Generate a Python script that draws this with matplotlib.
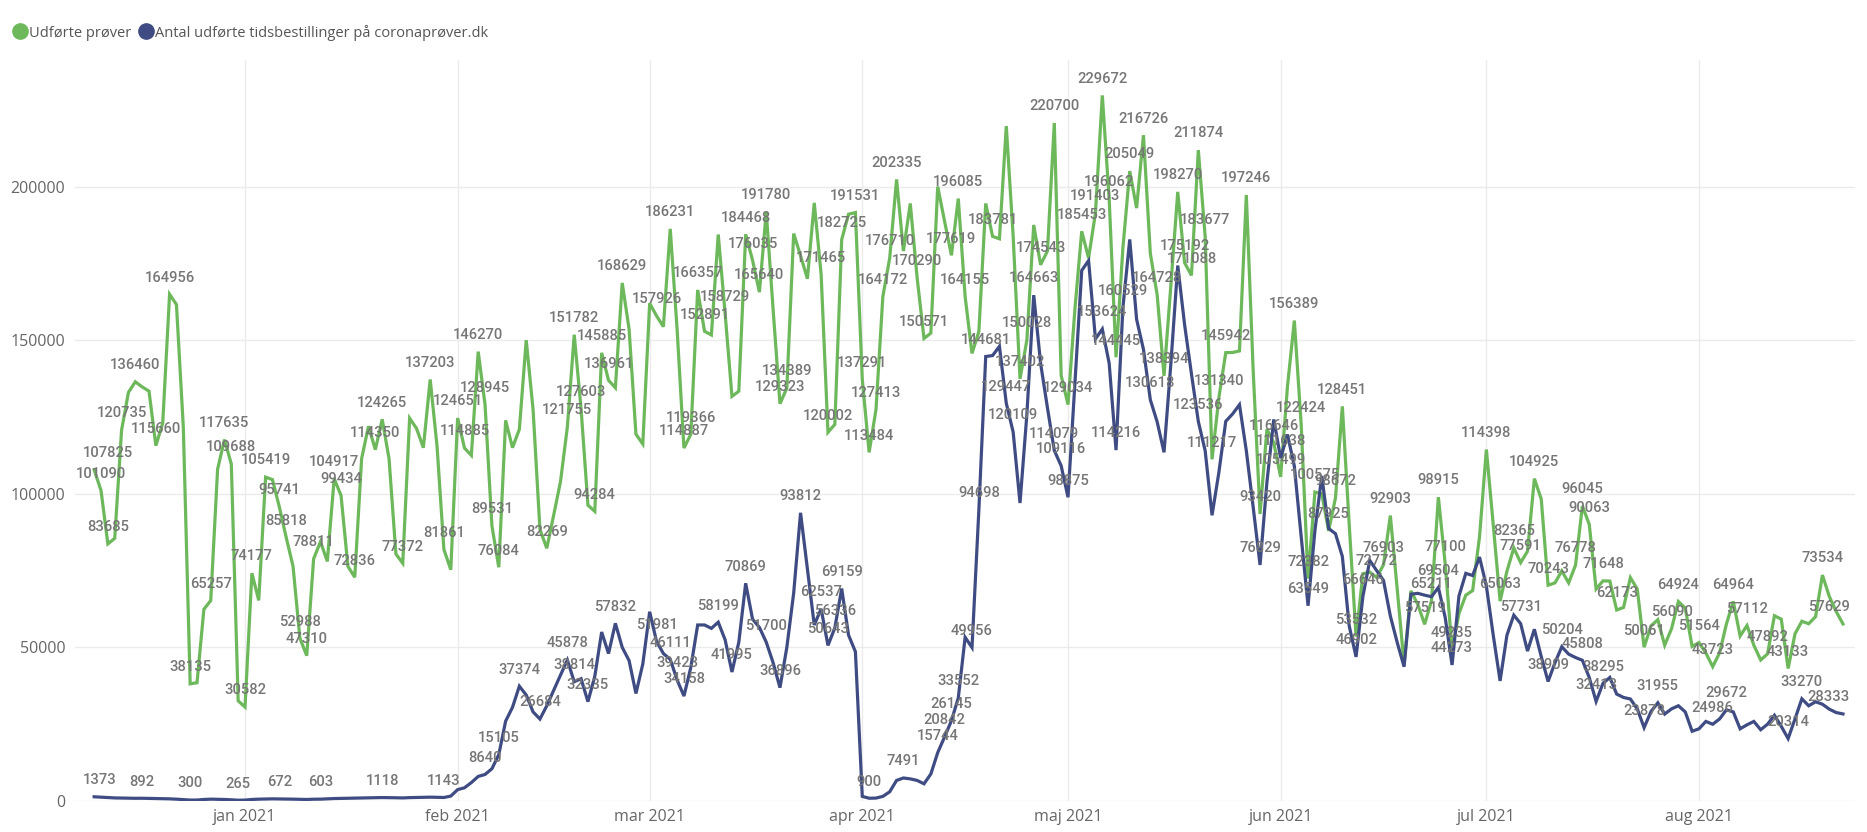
import matplotlib
matplotlib.use('Agg')
import matplotlib.pyplot as plt
from matplotlib.lines import Line2D
import pandas as pd

# daily values, first day 10 dec 2020
start_date = '2020-12-10'

udfoerte_proever = [
    107825, 101090, 83685, 85500, 120735, 133000, 136460, 134800, 133400, 115660,
    123000, 164956, 161600, 121800, 38135, 38500, 62400, 65257, 108000, 117635,
    109688, 32600, 30582, 74177, 65300, 105419, 104600, 95741, 85818, 76400,
    52988, 47310, 78811, 84400, 78000, 104917, 99434, 76400, 72836, 111400,
    122000, 114350, 124265, 111400, 80400, 77372, 124600, 121300, 115000, 137203,
    115400, 81861, 75300, 124651, 114885, 112500, 146270, 128945, 89531, 76084,
    123900, 115000, 121000, 150000, 127400, 88400, 82269, 93000, 104000, 121755,
    151782, 127603, 96300, 94284, 145885, 136961, 134500, 168629, 153600, 119400,
    116200, 162000, 157926, 154400, 186231, 153600, 114887, 119366, 166357, 152891,
    151700, 184400, 158729, 131700, 133400, 184468, 176035, 165640, 191780, 160000,
    129323, 134389, 184700, 177500, 170000, 194700, 171465, 120002, 122600, 182725,
    191000, 191531, 137291, 113484, 127413, 164172, 176710, 202335, 179000, 194500,
    170290, 150571, 152300, 200000, 188700, 177619, 196085, 164155, 145700, 152800,
    194500, 183781, 183000, 219700, 183900, 137402, 150028, 187500, 174543, 179000,
    220700, 138500, 129034, 160000, 185453, 176700, 191403, 229672, 196062, 144445,
    180000, 205049, 193000, 216726, 178300, 164728, 138394, 168000, 198270, 175192,
    171088, 211874, 183677, 111217, 131340, 145942, 146000, 146500, 197246, 140000,
    93420, 121000, 116646, 105499, 135000, 156389, 122424, 72382, 100575, 100000,
    87925, 98672, 128451, 90000, 53532, 74000, 74500, 72772, 76903, 92903,
    69000, 44500, 68400, 64000, 57519, 65211, 98915, 77100, 49235, 61000,
    67000, 68500, 86000, 114398, 90000, 65063, 74800, 82365, 77591, 81300,
    104925, 98300, 70243, 71000, 74900, 71000, 76778, 96045, 90063, 69000,
    71648, 71600, 62173, 63000, 72700, 69000, 50061, 57000, 59000, 50700,
    56090, 64924, 62800, 50300, 51564, 48200, 43723, 48200, 57600, 64964,
    53700, 57112, 50700, 45900, 47892, 60300, 59200, 43133, 54400, 58500,
    57700, 60000, 73534, 66600, 61700, 57629]

tidsbestillinger = [
    1373, 1250, 1100, 1000, 950, 900, 880, 892, 850, 800,
    750, 700, 600, 450, 300, 320, 500, 600, 550, 500,
    400, 265, 300, 500, 600, 650, 700, 672, 650, 600,
    550, 500, 580, 603, 700, 800, 850, 900, 950, 1000,
    1050, 1100, 1118, 1100, 1050, 1000, 1100, 1150, 1200, 1250,
    1200, 1143, 1600, 3700, 4300, 6000, 8000, 8640, 10500, 15105,
    26000, 30500, 37374, 34500, 29000, 26684, 31000, 36000, 41000, 45878,
    38814, 39800, 32335, 40600, 55000, 48000, 57832, 50000, 45700, 35000,
    44600, 61600, 51981, 48000, 46111, 39423, 34158, 43500, 57300, 57300,
    56200, 58199, 52500, 41995, 51700, 70869, 59200, 56500, 51700, 45000,
    36896, 50000, 67700, 93812, 75600, 57300, 62537, 50643, 56336, 69159,
    54000, 48600, 1500, 900, 950, 1500, 3000, 6700, 7491, 7200,
    6700, 5600, 8800, 15744, 20842, 26145, 33552, 53300, 49956, 94698,
    144681, 145000, 148000, 129447, 120109, 97000, 125800, 164663, 142500, 128000,
    114079, 109116, 98875, 136000, 172700, 175900, 150400, 153624, 142500, 114216,
    160529, 182800, 156800, 147000, 130618, 123400, 113500, 142500, 174300, 155000,
    139000, 123536, 114000, 93000, 107000, 123600, 126000, 129000, 114000, 95600,
    76829, 103700, 124200, 111638, 119300, 109000, 86000, 63549, 88000, 105800,
    88700, 87000, 79600, 57000, 46902, 66646, 78300, 75000, 71800, 60200,
    51600, 43700, 67300, 67600, 67000, 66500, 69504, 59700, 44273, 66700,
    74100, 73400, 79400, 70000, 54000, 39100, 54000, 60500, 57731, 48800,
    55900, 47000, 38909, 45000, 50204, 47800, 46700, 45808, 40200, 32413,
    38295, 40200, 34800, 33700, 33200, 30000, 23878, 29100, 31955, 28300,
    30000, 31000, 29000, 22700, 23500, 25900, 24986, 26700, 29672, 29000,
    23500, 24800, 25900, 23200, 25000, 27900, 24300, 20314, 26700, 33270,
    31000, 32300, 31500, 29900, 28800, 28333]

# which days carry a data label
green_label_days = [0, 1, 2, 4, 6, 9, 11, 14, 17, 19, 20, 22, 23, 25, 27, 28, 30, 31, 32,
                    35, 36, 38, 41, 42, 45, 49, 51, 53, 54, 56, 57, 58, 59, 66, 69, 70, 71,
                    73, 74, 75, 77, 82, 84, 86, 87, 88, 89, 92, 95, 96, 97, 98, 100, 101,
                    106, 107, 109, 111, 112, 113, 114, 115, 116, 117, 120, 121, 125, 126,
                    127, 131, 135, 136, 138, 140, 142, 144, 146, 147, 148, 149, 151, 153,
                    155, 156, 158, 159, 160, 161, 162, 163, 164, 165, 168, 170, 172, 173,
                    175, 176, 177, 178, 180, 181, 182, 184, 187, 188, 189, 194, 195, 196,
                    197, 198, 203, 205, 207, 208, 210, 212, 216, 217, 218, 220, 222, 226,
                    230, 231, 234, 236, 239, 241, 244, 247, 252, 255]
blue_label_days = [0, 7, 14, 21, 27, 33, 42, 51, 57, 59, 62, 65, 69, 70, 72, 76, 82, 84, 85,
                   86, 91, 93, 95, 98, 100, 103, 106, 107, 108, 109, 113, 118, 123, 124,
                   125, 126, 128, 129, 130, 133, 134, 137, 140, 141, 142, 147, 149, 150,
                   154, 161, 170, 173, 177, 184, 185, 196, 198, 208, 212, 214, 217, 219,
                   220, 226, 228, 236, 238, 247, 249, 255]

month_starts = ['2021-01-01', '2021-02-01', '2021-03-01', '2021-04-01',
                '2021-05-01', '2021-06-01', '2021-07-01', '2021-08-01']
month_names = ['jan 2021', 'feb 2021', 'mar 2021', 'apr 2021',
               'maj 2021', 'jun 2021', 'jul 2021', 'aug 2021']
y_ticks = [0, 50000, 100000, 150000, 200000]

GREEN = '#6db85b'
BLUE = '#3f4c83'
LABEL_GREY = '#767676'
AXIS_GREY = '#666666'

dates = pd.date_range(start_date, periods=len(udfoerte_proever), freq='D')

fig = plt.figure(figsize=(18.67, 8.32), dpi=100)
ax = fig.add_axes([75 / 1867, 31 / 832, 1780 / 1867, 741 / 832])

ax.plot(dates, udfoerte_proever, color=GREEN, lw=2.3, solid_joinstyle='miter', zorder=3)
ax.plot(dates, tidsbestillinger, color=BLUE, lw=2.3, solid_joinstyle='miter', zorder=3)


def put_labels(days, values):
    last = len(values) - 1
    for d in days:
        ha, dx = 'center', 0
        if d == 0:
            ha, dx = 'left', -8
        elif d == last:
            ha, dx = 'right', 5
        ax.annotate(str(values[d]), (dates[d], values[d]), xytext=(dx, 12),
                    textcoords='offset points', ha=ha, va='center',
                    fontsize=10.6, color=LABEL_GREY, family='Roboto',
                    fontweight='medium', zorder=4)


put_labels(green_label_days, udfoerte_proever)
put_labels(blue_label_days, tidsbestillinger)

ax.set_xlim(dates[0] - pd.Timedelta(hours=67), dates[-1] + pd.Timedelta(hours=42))
ax.set_ylim(0, 241200)

ax.set_xticks(pd.to_datetime(month_starts))
ax.set_xticklabels(month_names)
ax.set_yticks(y_ticks)
ax.set_yticklabels([str(v) for v in y_ticks])
ax.tick_params(length=0, labelsize=11.5, labelcolor=AXIS_GREY, pad=7)
for lab in ax.get_xticklabels() + ax.get_yticklabels():
    lab.set_family('Open Sans')
ax.tick_params(axis='x', pad=6)
ax.grid(True, color='#ebebeb', lw=1.0, zorder=0)
for s in ax.spines.values():
    s.set_visible(False)

handles = [Line2D([], [], ls='none', marker='o', ms=11, color=GREEN),
           Line2D([], [], ls='none', marker='o', ms=11, color=BLUE)]
fig.legend(handles, ['Udførte prøver', 'Antal udførte tidsbestillinger på coronaprøver.dk'],
           loc='upper left', bbox_to_anchor=(-0.002, 0.988), ncol=2, frameon=False,
           handletextpad=0.05, columnspacing=0.4, handlelength=1.2, borderaxespad=0.6,
           prop={'family': 'Open Sans', 'size': 10.5}, labelcolor='#555555')

fig.savefig('out.png', dpi=100)
